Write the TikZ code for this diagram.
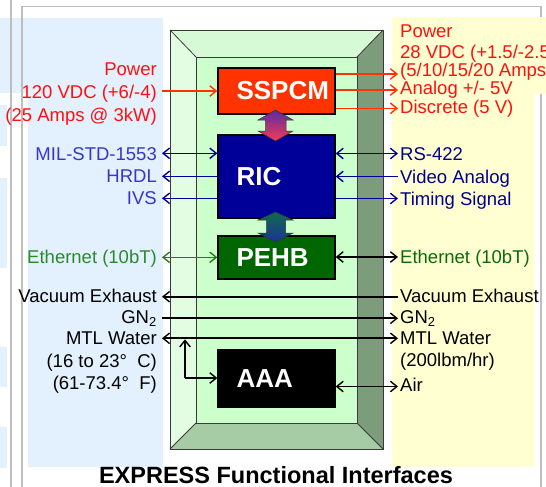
\documentclass[tikz,border=0pt]{standalone}
\usepackage{fontspec}
\setmainfont{Liberation Sans}
\usetikzlibrary{arrows.meta}
\definecolor{panelblue}{HTML}{E2F1FD}
\definecolor{panelyellow}{HTML}{FFFFD2}
\definecolor{framegray}{HTML}{BEBEBE}
\definecolor{bevtop}{HTML}{D6FAD6}
\definecolor{bevleft}{HTML}{E2FDE2}
\definecolor{bevright}{HTML}{7C9C7C}
\definecolor{bevbot}{HTML}{A6CCA6}
\definecolor{innerface}{HTML}{CCFFCC}
\definecolor{edge}{HTML}{3A3A3A}
\definecolor{sspcmfill}{HTML}{FF3300}
\definecolor{ricfill}{HTML}{000099}
\definecolor{pehbfill}{HTML}{006600}
\definecolor{redtxt}{HTML}{FF1010}
\definecolor{redline}{HTML}{FF3300}
\definecolor{bluetxtL}{HTML}{3636C8}
\definecolor{bluetxtR}{HTML}{000088}
\definecolor{blueline}{HTML}{000099}
\definecolor{greentxtL}{HTML}{2D882D}
\definecolor{greentxtR}{HTML}{0B6B0B}
\definecolor{greenline}{HTML}{1E801E}
\definecolor{arAtop}{HTML}{5A2CA0}
\definecolor{arAbot}{HTML}{F53A55}
\definecolor{arBtop}{HTML}{0F6B4B}
\definecolor{arBbot}{HTML}{1C3399}
\begin{document}
\begin{tikzpicture}[x=1pt,y=-1pt,
  lbl/.style={inner sep=0pt, font=\fontsize{18.5}{22}\selectfont},
  ll/.style={lbl, anchor=base east},
  rl/.style={lbl, anchor=base west},
  >={Straight Barb[length=6.5pt,width=10.5pt,line width=1.4pt]},
  redar/.style={draw=redline, line width=1.5pt},
  bluear/.style={draw=blueline, line width=1.5pt},
  greenar/.style={draw=greenline, line width=1.5pt},
  blackar/.style={draw=black, line width=1.8pt},
  box/.style={draw=black, line width=1.3pt, text=white,
    font=\bfseries\fontsize{26}{28}\selectfont,
    text width=80pt, align=left, inner xsep=18.5pt, inner ysep=0pt,
    minimum width=117pt},
  bev/.style={draw=edge, line width=0.8pt},
  fatar/.style={draw=black!80, line width=0.5pt}
]
\useasboundingbox (0,0) rectangle (546,487);
\clip (0,0) rectangle (546,487);

% background panels
\fill[panelblue] (28,18) rectangle (163,467);
\fill[panelblue] (0,18) rectangle (28,93);
\fill[panelblue] (0,105) rectangle (7,146);
\fill[panelblue] (0,178) rectangle (7,268);
\fill[panelblue] (0,347) rectangle (7,387);
\fill[panelblue] (0,427) rectangle (7,468);
\draw[framegray, line width=1.3pt] (11,0) -- (11,487);
\draw[framegray, line width=1.3pt] (22,487) -- (22,6.5) -- (541,6.5) -- (541,487);
\fill[panelyellow] (392,17) rectangle (534,467);
\fill[panelyellow] (534,17) rectangle (546,94);

% beveled frame
\fill[bevtop] (170,30) -- (383,30) -- (357,57) -- (196,57) -- cycle;
\fill[bevleft] (170,30) -- (196,57) -- (196,423) -- (170,449) -- cycle;
\fill[bevright] (383,30) -- (383,449) -- (357,423) -- (357,57) -- cycle;
\fill[bevbot] (170,449) -- (383,449) -- (357,423) -- (196,423) -- cycle;
\fill[innerface] (196,57) rectangle (357,423);
\draw[bev] (170,30) rectangle (383,449);
\draw[bev] (196,57) rectangle (357,423);
\draw[bev] (170,30) -- (196,57) (383,30) -- (357,57) (170,449) -- (196,423) (383,449) -- (357,423);

% boxes
\node[box, fill=sspcmfill, minimum height=46pt] (sspcm) at (276.5,91) {SSPCM};
\node[box, fill=ricfill, minimum height=83pt] (ric) at (276.5,176.5) {RIC};
\node[box, fill=pehbfill, minimum height=43pt] (pehb) at (276.5,257.5) {PEHB};
\node[box, fill=black, minimum height=57pt] (aaa) at (276.5,378.5) {AAA};

% fat gradient double arrows
\shadedraw[fatar, top color=arAtop, bottom color=arAbot]
  (275.5,110) -- (293,120) -- (286,120) -- (286,131) -- (293,131) -- (275.5,141)
  -- (258,131) -- (265.5,131) -- (265.5,120) -- (258,120) -- cycle;
\shadedraw[fatar, top color=arBtop, bottom color=arBbot]
  (275.5,212) -- (293,220) -- (285.5,220) -- (285.5,233) -- (293,233) -- (275.5,242)
  -- (258,233) -- (266.5,233) -- (266.5,220) -- (258,220) -- cycle;

% left labels
\node[ll, text=redtxt] (Lpower) at (157,76) {Power};
\node[ll, text=redtxt] (Lvdc) at (157,99) {120 VDC (+6/-4)};
\node[ll, text=redtxt] (Lamps) at (157,121) {(25 Amps @ 3kW)};
\node[ll, text=bluetxtL] (Lmil) at (157,160) {MIL-STD-1553};
\node[ll, text=bluetxtL] (Lhrdl) at (157,182.7) {HRDL};
\node[ll, text=bluetxtL] (Livs) at (157,204.5) {IVS};
\node[ll, text=greentxtL] (Leth) at (157,263.5) {Ethernet (10bT)};
\node[ll] (Lvac) at (157,302) {Vacuum Exhaust};
\node[ll] (Lgn) at (157,323.5) {GN\textsubscript{2}};
\node[ll] (Lmtl) at (157,344.5) {MTL Water};
\node[ll] (Lt1) at (157,367.5) {(16 to 23°~~C)};
\node[ll] (Lt2) at (157,389.5) {(61-73.4°~~F)};

% right labels
\node[rl, text=redtxt] (Rpower) at (400,38) {Power};
\node[rl, text=redtxt] (Rvdc) at (400,59) {28 VDC (+1.5/-2.5};
\node[rl, text=redtxt] (Ramps) at (400,77) {(5/10/15/20 Amps};
\node[rl, text=redtxt] (Ranalog) at (400,95) {Analog +/- 5V};
\node[rl, text=redtxt] (Rdisc) at (400,113) {Discrete (5 V)};
\node[rl, text=bluetxtR] (Rrs) at (400,160) {RS-422};
\node[rl, text=bluetxtR] (Rvideo) at (400,183) {Video Analog};
\node[rl, text=bluetxtR] (Rtiming) at (400,205.5) {Timing Signal};
\node[rl, text=greentxtR] (Reth) at (400,263.3) {Ethernet (10bT)};
\node[rl] (Rvac) at (400,302) {Vacuum Exhaust};
\node[rl] (Rgn) at (400,323.5) {GN\textsubscript{2}};
\node[rl] (Rmtl) at (400,344.3) {MTL Water};
\node[rl] (Rlbm) at (400,366.7) {(200lbm/hr)};
\node[rl] (Rair) at (400,391.7) {Air};

% connector end points
\coordinate (lvdc) at (162,91);
\coordinate (lmil) at (162,153.3);
\coordinate (lhrdl) at (162,176.3);
\coordinate (livs) at (162,198.3);
\coordinate (leth) at (162,257.3);
\coordinate (lvac) at (162,296.7);
\coordinate (lgn) at (162,318.3);
\coordinate (lmtl) at (162,338.3);
\coordinate (ra1) at (398,74);
\coordinate (ra2) at (398,90);
\coordinate (ra3) at (398,108.3);
\coordinate (rrs) at (398,153.5);
\coordinate (rvideo) at (398,176.5);
\coordinate (rtiming) at (398,198.5);
\coordinate (reth) at (398,257);
\coordinate (rvac) at (398,296.7);
\coordinate (rgn) at (398,318.3);
\coordinate (rmtl) at (398,338.3);
\coordinate (rair) at (398,386.5);
\coordinate (br) at (185,378);

% red
\draw[redar, ->] (lvdc) -- (lvdc -| sspcm.west);
\draw[redar, ->] (sspcm.east |- ra1) -- (ra1);
\draw[redar, ->] (sspcm.east |- ra2) -- (ra2);
\draw[redar, ->] (sspcm.east |- ra3) -- (ra3);
% blue
\draw[bluear, <->] (lmil) -- (lmil -| ric.west);
\draw[bluear, <-] (lhrdl) -- (lhrdl -| ric.west);
\draw[bluear, <-] (livs) -- (livs -| ric.west);
\draw[bluear, <->] (ric.east |- rrs) -- (rrs);
\draw[bluear, <-] (ric.east |- rvideo) -- (rvideo);
\draw[bluear, ->] (ric.east |- rtiming) -- (rtiming);
% ethernet
\draw[greenar, <->] (leth) -- (leth -| pehb.west);
\draw[blackar, <->] (pehb.east |- reth) -- (reth);
% fluids
\draw[blackar, <-] (lvac) -- (rvac);
\draw[blackar, ->] (lgn) -- (rgn);
\draw[blackar, <->] (lmtl) -- (rmtl);
\draw[blackar, ->] (br) -- (br -| aaa.west);
\draw[blackar, ->, shorten >=1pt] (br) -- (br |- lmtl);
\draw[blackar, <->] (aaa.east |- rair) -- (rair);

% title
\node[inner sep=0pt, anchor=base, font=\bfseries\fontsize{23.5}{26}\selectfont] (title) at (276,483) {EXPRESS Functional Interfaces};
\end{tikzpicture}
\end{document}
